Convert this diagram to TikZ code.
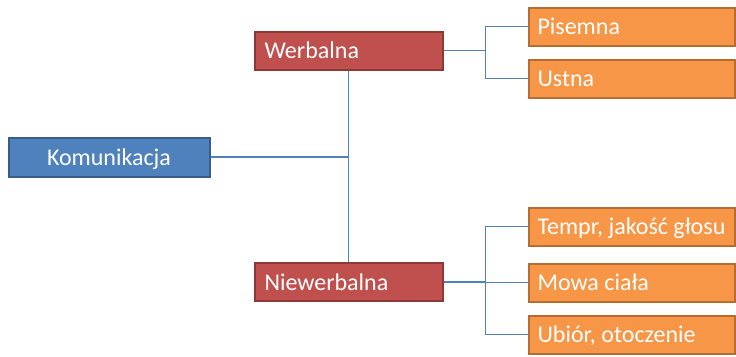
\documentclass[tikz,border=0pt]{standalone}
\usepackage{fontspec}
\setmainfont{Carlito}
\definecolor{bfill}{HTML}{4F81BD}
\definecolor{bline}{HTML}{385D8A}
\definecolor{rfill}{HTML}{C0504D}
\definecolor{rline}{HTML}{8C3836}
\definecolor{ofill}{HTML}{F79646}
\definecolor{oline}{HTML}{B66D31}
\definecolor{conn}{HTML}{4F81BD}
\newcommand{\lefttext}[2]{\makebox[#1][l]{#2}}
\tikzset{
  box/.style={rectangle, line width=2pt, text=white, inner ysep=0pt,
    font=\fontsize{24}{28}\selectfont\frenchspacing, text height=18pt, text depth=2pt},
  rootbox/.style={box, draw=bline, fill=bfill, minimum width=201pt, minimum height=39pt, inner xsep=10pt},
  midbox/.style={box, draw=rline, fill=rfill, minimum width=188pt, minimum height=38pt, inner xsep=10pt},
  leafbox/.style={box, draw=oline, fill=ofill, minimum width=206pt, minimum height=38pt, inner xsep=9pt},
  link/.style={draw=conn, line width=1.1pt}
}
\begin{document}
\begin{tikzpicture}[x=1pt,y=-1pt]
\useasboundingbox (0,0) rectangle (736,356);
\node[rootbox] (kom) at (109,157) {Komunikacja};
\node[midbox] (werb) at (348.5,50.5) {\lefttext{168pt}{Werbalna}};
\node[midbox] (niew) at (348.5,282) {\lefttext{168pt}{Niewerbalna}};
\node[leafbox] (pis) at (631.5,26.5) {\lefttext{188pt}{Pisemna}};
\node[leafbox] (ust) at (631.5,78.5) {\lefttext{188pt}{Ustna}};
\node[leafbox] (temp) at (631.5,226.5) {\lefttext{188pt}{Tempr, jakość głosu}};
\node[leafbox] (mowa) at (631.5,282.5) {\lefttext{188pt}{Mowa ciała}};
\node[leafbox] (ubi) at (631.5,334.5) {\lefttext{188pt}{Ubiór, otoczenie}};
\coordinate (cx) at (485.5,0);
\path[link] (kom.east) -- (kom.east -| werb.south);
\path[link] (werb.south) -- (niew.north);
\path[link] (werb.east) -- (werb.east -| cx);
\path[link] (pis.west) -- (pis.west -| cx) -- (ust.west -| cx) -- (ust.west);
\path[link] (niew.east) -- (niew.east -| cx);
\path[link] (temp.west) -- (temp.west -| cx) -- (ubi.west -| cx) -- (ubi.west);
\path[link] (mowa.west) -- (mowa.west -| cx);
\end{tikzpicture}
\end{document}
